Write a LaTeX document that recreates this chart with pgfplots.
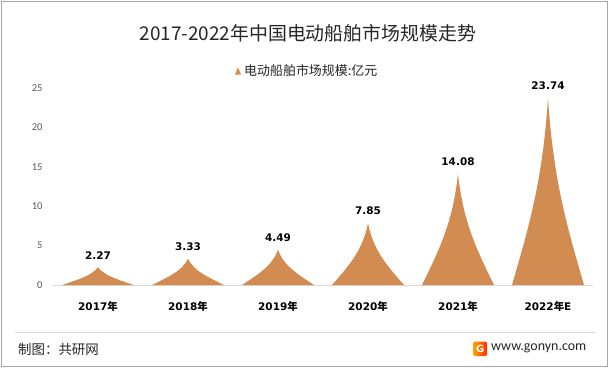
\documentclass[border=0pt]{standalone}
\usepackage{fontspec}
\setmainfont{Carlito}
\newfontfamily\cjk{Noto Sans CJK SC}
\newfontfamily\dv{DejaVu Sans}
\usepackage{pgfplots}
\pgfplotsset{compat=1.18}
\usepackage{pgfplotstable}
\definecolor{peakc}{RGB}{210,139,80}
\definecolor{tickgray}{RGB}{89,89,89}
\definecolor{bordergray}{RGB}{166,166,166}
\definecolor{linegray}{RGB}{217,217,217}

\pgfplotstableread{
x v
0 2.27
1 3.33
2 4.49
3 7.85
4 14.08
5 23.74
}\peakdata

\pgfdeclareplotmark{peak}{%
  \pgfsetfillcolor{peakc}%
  \pgfmathsetmacro\hh{\ry*7.88}%
  \pgfmathsetmacro\ha{0.7*\hh}%
  \pgfmathsetmacro\hb{0.45*\hh}%
  \pgfpathmoveto{\pgfpoint{-36bp}{-\hh bp}}%
  \pgfpathcurveto{\pgfpoint{-19.8bp}{-\ha bp}}{\pgfpoint{-5.4bp}{-\hb bp}}{\pgfpointorigin}%
  \pgfpathcurveto{\pgfpoint{5.4bp}{-\hb bp}}{\pgfpoint{19.8bp}{-\ha bp}}{\pgfpoint{36bp}{-\hh bp}}%
  \pgfpathclose
  \pgfusepathqfill
}

\begin{document}
\begin{tikzpicture}[x=1bp,y=1bp]
\fill[white] (0,0) rectangle (614,373);
\draw[bordergray, line width=0.8bp] (1,7) rectangle (607.5,372);
\node[font=\cjk\fontsize{19}{22}\selectfont, text=black!85] at (308,340) {2017-2022年中国电动船舶市场规模走势};
% legend
\fill[peakc] (235,298.5) -- (241,298.5) -- (238,305.5) -- cycle;
\node[anchor=west, font=\cjk\fontsize{13}{15}\selectfont, text=black!85, inner sep=0pt] at (244,302) {电动船舶市场规模:亿元};
\begin{axis}[
  at={(53bp,88bp)}, anchor=south west,
  scale only axis, width=540bp, height=197bp,
  xmin=-0.5, xmax=5.5, ymin=0, ymax=25,
  xtick={0,1,2,3,4,5},
  xticklabels={2017{\cjk 年},2018{\cjk 年},2019{\cjk 年},2020{\cjk 年},2021{\cjk 年},2022{\cjk 年}E},
  ytick={0,5,10,15,20,25},
  axis x line*=bottom, axis y line*=left,
  y axis line style={draw=none},
  x axis line style={draw=linegray, line width=0.8bp},
  major tick length=0pt,
  clip=false,
  /pgf/number format/assume math mode=true,
  yticklabel style={font=\fontsize{10.5}{12}\selectfont, text=tickgray, xshift=-7bp},
  xticklabel style={font=\dv\bfseries\fontsize{10.5}{12}\selectfont, text=black, yshift=-13bp},
]
\addplot[scatter, only marks, mark=peak,
  scatter/use mapped color={draw=none, fill=peakc},
  visualization depends on={y \as \ry},
  point meta=y,
  nodes near coords={\pgfmathprintnumber[fixed,fixed zerofill,precision=2]{\pgfplotspointmeta}},
  every node near coord/.append style={font=\dv\bfseries\fontsize{10.5}{12}\selectfont, text=black, anchor=south, yshift=4.5bp},
] table[x=x, y=v] {\peakdata};
\end{axis}
% footer
\draw[linegray, line width=0.8bp] (15,41) -- (595,41);
\node[anchor=west, font=\cjk\fontsize{13.5}{15}\selectfont, text=black!85, inner sep=0pt] at (18,24) {制图：共研网};
\shade[left color=orange!70!yellow, right color=red!65!orange, rounded corners=1.5bp] (473,17) rectangle (487,31.5);
\node[font=\dv\bfseries\fontsize{10}{10}\selectfont, text=white, inner sep=0pt] at (480.3,24.2) {G};
\node[anchor=west, font=\fontsize{14}{16}\selectfont, text=black!85, inner sep=0pt] at (491,24.5) {www.gonyn.com};
\end{tikzpicture}
\end{document}
